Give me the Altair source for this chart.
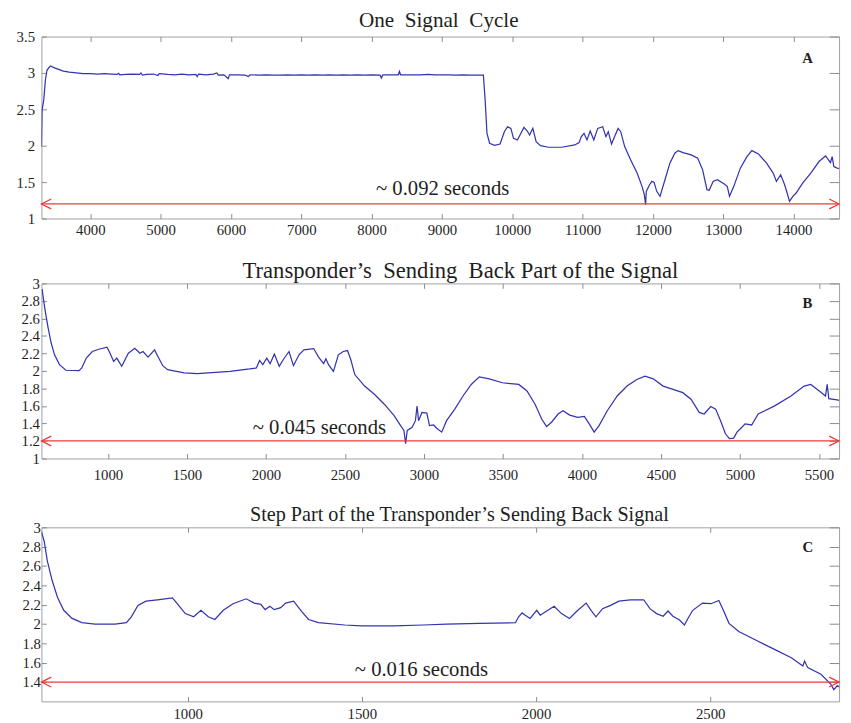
import altair as alt
import pandas as pd

FONT = "Liberation Serif"
LINE_COLOR = "#3434b0"
ARROW_COLOR = "#ee3b3b"
TEXT_COLOR = "#1e1e1e"

# ---------------- Panel A : One Signal Cycle ----------------
A_X = [3305, 3314, 3338, 3361, 3384, 3431, 3501, 3617, 3700, 3800, 3900, 4000,
       4100, 4200, 4300, 4380, 4400, 4420, 4500, 4600, 4700, 4720, 4740, 4800,
       4900, 4960, 4980, 5100, 5200, 5300, 5400, 5500, 5520, 5540, 5650, 5750,
       5800, 5820, 5900, 5960, 5980, 6100, 6200, 6250, 6270, 6400, 6500, 6600,
       6700, 6800, 6900, 7000, 7100, 7200, 7300, 7400, 7500, 7600, 7700, 7800,
       7900, 8000, 8120, 8140, 8160, 8300, 8380, 8396, 8412, 8500, 8600, 8700,
       8800, 8900, 9000, 9100, 9200, 9300, 9400, 9500, 9590, 9615, 9641, 9678,
       9748, 9827, 9888, 9934, 9981, 10018, 10074, 10167, 10214, 10247, 10293,
       10340, 10401, 10517, 10704, 10890, 10951, 10983, 11021, 11063, 11109,
       11160, 11216, 11286, 11333, 11366, 11412, 11459, 11505, 11543, 11599,
       11683, 11776, 11846, 11878, 11897, 11906, 11953, 11986, 12018, 12055,
       12102, 12172, 12242, 12312, 12359, 12429, 12545, 12638, 12708, 12769,
       12801, 12857, 12918, 13011, 13058, 13090, 13151, 13244, 13338, 13408,
       13501, 13617, 13711, 13757, 13818, 13874, 13944, 13990, 14037, 14130,
       14246, 14363, 14456, 14526, 14550, 14573, 14620, 14650]
A_Y = [1.99, 2.49, 2.63, 2.90, 3.04, 3.095, 3.067, 3.026, 3.01, 3.0, 2.99, 2.99,
       2.985, 2.99, 2.985, 2.98, 2.995, 2.975, 2.98, 2.985, 2.98, 3.0, 2.97, 2.98,
       2.985, 2.965, 2.99, 2.98, 2.975, 2.985, 2.975, 2.98, 2.95, 2.985, 2.975, 2.985,
       3.0, 2.97, 2.975, 2.92, 2.975, 2.975, 2.97, 2.95, 2.975, 2.97, 2.975, 2.97,
       2.97, 2.975, 2.97, 2.975, 2.97, 2.975, 2.97, 2.975, 2.97, 2.975, 2.97, 2.975,
       2.97, 2.975, 2.97, 2.93, 2.975, 2.975, 2.975, 3.02, 2.975, 2.975, 2.975, 2.975,
       2.98, 2.975, 2.975, 2.975, 2.97, 2.975, 2.97, 2.97, 2.97, 2.626, 2.17, 2.034,
       2.006, 2.024, 2.193, 2.261, 2.238, 2.102, 2.079, 2.252, 2.202, 2.147, 2.238,
       2.056, 2.002, 1.979, 1.979, 2.011, 2.043, 2.125, 2.170, 2.079, 2.202,
       2.079, 2.238, 2.261, 2.125, 2.193, 2.024, 2.134, 2.238, 2.193, 1.988,
       1.806, 1.624, 1.442, 1.328, 1.191, 1.373, 1.464, 1.510, 1.496, 1.373,
       1.305, 1.533, 1.760, 1.897, 1.933, 1.906, 1.874, 1.829, 1.669, 1.396,
       1.387, 1.510, 1.533, 1.478, 1.442, 1.305, 1.442, 1.692, 1.851, 1.933,
       1.888, 1.760, 1.624, 1.510, 1.601, 1.464, 1.237, 1.305, 1.350, 1.487,
       1.624, 1.783, 1.860, 1.769, 1.851, 1.715, 1.692, 1.69]

# ---------------- Panel B : Transponder's sending back part ----------------
B_X = [583, 599, 620, 641, 662, 693, 734, 817, 834, 863, 901, 942, 994, 1011,
       1036, 1056, 1087, 1129, 1170, 1202, 1222, 1254, 1295, 1316, 1347, 1378,
       1482, 1565, 1773, 1897, 1939, 1960, 1980, 2005, 2026, 2053, 2084, 2109,
       2146, 2174, 2209, 2240, 2302, 2333, 2365, 2379, 2396, 2427, 2458, 2489,
       2516, 2537, 2562, 2624, 2686, 2749, 2811, 2852, 2873, 2884, 2894, 2925,
       2946, 2956, 2966, 2987, 3018, 3035, 3060, 3081, 3112, 3143, 3195, 3247,
       3299, 3350, 3413, 3496, 3600, 3652, 3703, 3745, 3776, 3807, 3849, 3880,
       3922, 3973, 4015, 4046, 4077, 4108, 4160, 4223, 4285, 4347, 4399, 4451,
       4513, 4576, 4638, 4690, 4742, 4773, 4815, 4846, 4877, 4908, 4933, 4960,
       4981, 5012, 5032, 5074, 5115, 5219, 5323, 5406, 5448, 5510, 5541, 5552,
       5562, 5614, 5630]
B_Y = [2.936, 2.73, 2.504, 2.316, 2.184, 2.072, 2.008, 2.004, 2.034, 2.147, 2.222,
       2.248, 2.271, 2.211, 2.109, 2.147, 2.053, 2.203, 2.26, 2.203, 2.222, 2.158,
       2.241, 2.166, 2.06, 2.015, 1.978, 1.97, 1.996, 2.023, 2.034, 2.12, 2.072,
       2.147, 2.083, 2.192, 2.053, 2.128, 2.222, 2.06, 2.184, 2.241, 2.256, 2.158,
       2.083, 2.139, 2.072, 1.996, 2.184, 2.222, 2.233, 2.128, 1.959, 1.827, 1.733,
       1.620, 1.489, 1.376, 1.32, 1.17, 1.32, 1.357, 1.432, 1.60, 1.432, 1.526,
       1.519, 1.376, 1.383, 1.346, 1.301, 1.432, 1.564, 1.714, 1.846, 1.932, 1.91,
       1.865, 1.846, 1.771, 1.62, 1.451, 1.365, 1.414, 1.508, 1.545, 1.496, 1.47,
       1.481, 1.395, 1.301, 1.376, 1.545, 1.714, 1.827, 1.902, 1.94, 1.91, 1.827,
       1.79, 1.752, 1.677, 1.526, 1.508, 1.594, 1.564, 1.432, 1.282, 1.226, 1.233,
       1.301, 1.357, 1.395, 1.383, 1.508, 1.601, 1.714, 1.827, 1.846, 1.759, 1.714,
       1.846, 1.684, 1.669, 1.665]

# ---------------- Panel C : Step part ----------------
C_X = [580, 588, 597, 611, 626, 644, 668, 696, 734, 791, 824, 838, 857, 880, 913,
       956, 974, 993, 1017, 1038, 1059, 1078, 1102, 1130, 1168, 1191, 1210, 1222,
       1236, 1248, 1267, 1281, 1304, 1328, 1347, 1375, 1451, 1498, 1592, 1677,
       1743, 1837, 1941, 1950, 1960, 1969, 1983, 2002, 2012, 2026, 2052, 2073,
       2096, 2120, 2144, 2158, 2172, 2191, 2214, 2238, 2271, 2309, 2327, 2346,
       2365, 2379, 2393, 2412, 2426, 2436, 2450, 2478, 2502, 2525, 2540, 2554,
       2582, 2629, 2686, 2733, 2766, 2771, 2780, 2818, 2846, 2855, 2865, 2870]
C_Y = [2.956, 2.854, 2.651, 2.447, 2.278, 2.142, 2.058, 2.014, 2.0, 2.0, 2.014,
       2.075, 2.193, 2.237, 2.251, 2.271, 2.193, 2.108, 2.075, 2.142, 2.075, 2.047,
       2.142, 2.21, 2.261, 2.217, 2.203, 2.149, 2.183, 2.149, 2.17, 2.217, 2.237,
       2.125, 2.047, 2.014, 1.99, 1.98, 1.98, 1.99, 2.0, 2.007, 2.014, 2.075, 2.115,
       2.092, 2.058, 2.142, 2.092, 2.125, 2.183, 2.108, 2.058, 2.142, 2.217, 2.142,
       2.075, 2.159, 2.193, 2.237, 2.251, 2.251, 2.159, 2.108, 2.081, 2.135, 2.081,
       2.041, 1.99, 2.058, 2.142, 2.217, 2.21, 2.244, 2.125, 2.007, 1.922, 1.837,
       1.735, 1.651, 1.566, 1.617, 1.549, 1.481, 1.38, 1.322, 1.363, 1.35]

A_XTICKS = [4000, 5000, 6000, 7000, 8000, 9000, 10000, 11000, 12000, 13000, 14000]
A_YTICKS = [1, 1.5, 2, 2.5, 3, 3.5]
B_XTICKS = [1000, 1500, 2000, 2500, 3000, 3500, 4000, 4500, 5000, 5500]
B_YTICKS = [1, 1.2, 1.4, 1.6, 1.8, 2, 2.2, 2.4, 2.6, 2.8, 3]
C_XTICKS = [1000, 1500, 2000, 2500]
C_YTICKS = [1.4, 1.6, 1.8, 2, 2.2, 2.4, 2.6, 2.8, 3]

LEFT_HEAD = "M 1 -0.5 L 0 0 L 1 0.5"
RIGHT_HEAD = "M -1 -0.5 L 0 0 L -1 0.5"

PLOT_W = 811


def panel(xv, yv, xdom, ydom, xticks, yticks, title, tsize, tx, ty, letter, lpos,
          arrow_y, note, npos, height, ylabpad, xlabpad):
    df = pd.DataFrame({"x": xv, "y": yv})
    xs = alt.Scale(domain=xdom, nice=False, zero=False)
    ys = alt.Scale(domain=ydom, nice=False, zero=False)

    line = alt.Chart(df).mark_line(color=LINE_COLOR, strokeWidth=1.25, clip=True).encode(
        x=alt.X("x:Q", scale=xs,
                axis=alt.Axis(orient="bottom", values=xticks, offset=-5, tickSize=5,
                              domain=False, grid=False, title=None, format="d",
                              labelPadding=xlabpad, labelFlush=False)),
        y=alt.Y("y:Q", scale=ys,
                axis=alt.Axis(orient="left", values=yticks, offset=-5, tickSize=5,
                              domain=False, grid=False, title=None, format="~g",
                              labelPadding=ylabpad, labelFlush=False,
                              labelOverlap=False)),
    )

    adf = pd.DataFrame({"x": [xdom[0]], "x2": [xdom[1]], "y": [arrow_y]})
    rule = alt.Chart(adf).mark_rule(color=ARROW_COLOR, strokeWidth=1.3).encode(
        x=alt.X("x:Q", scale=xs,
                axis=alt.Axis(orient="top", values=xticks, offset=-5, tickSize=5,
                              domain=False, grid=False, title=None, labels=False)),
        x2="x2:Q",
        y=alt.Y("y:Q", scale=ys,
                axis=alt.Axis(orient="right", values=yticks, offset=-10, tickSize=10,
                              domain=False, grid=False, title=None, labels=False)),
    )

    hl = alt.Chart(pd.DataFrame({"x": [xdom[0]], "y": [arrow_y]})).mark_point(
        shape=LEFT_HEAD, size=400, filled=False, color=ARROW_COLOR,
        strokeWidth=1.3, opacity=1).encode(
        x=alt.X("x:Q", scale=xs, axis=None), y=alt.Y("y:Q", scale=ys, axis=None))
    hr = alt.Chart(pd.DataFrame({"x": [xdom[1]], "y": [arrow_y]})).mark_point(
        shape=RIGHT_HEAD, size=400, filled=False, color=ARROW_COLOR,
        strokeWidth=1.3, opacity=1).encode(
        x=alt.X("x:Q", scale=xs, axis=None), y=alt.Y("y:Q", scale=ys, axis=None))

    txt = alt.Chart(pd.DataFrame({"x": [npos[0]], "y": [npos[1]], "t": [note]})).mark_text(
        font=FONT, fontSize=21, color=TEXT_COLOR, align="center", baseline="middle").encode(
        x=alt.X("x:Q", scale=xs, axis=None), y=alt.Y("y:Q", scale=ys, axis=None),
        text="t:N")
    let = alt.Chart(pd.DataFrame({"x": [lpos[0]], "y": [lpos[1]], "t": [letter]})).mark_text(
        font=FONT, fontSize=15, fontWeight="bold", color=TEXT_COLOR,
        align="center", baseline="middle").encode(
        x=alt.X("x:Q", scale=xs, axis=None), y=alt.Y("y:Q", scale=ys, axis=None),
        text="t:N")
    ttl = alt.Chart(pd.DataFrame({"t": [title]})).mark_text(
        font=FONT, fontSize=tsize, color=TEXT_COLOR, align="center",
        baseline="middle").encode(
        x=alt.value(tx), y=alt.value(ty), text="t:N")

    return alt.layer(line, rule, hl, hr, txt, let, ttl).resolve_axis(
        x="independent", y="independent").properties(width=PLOT_W, height=height)


TX = 404
pA = panel(A_X, A_Y, [3305, 14648], [1, 3.5], A_XTICKS, A_YTICKS,
           "One\u00a0 Signal\u00a0 Cycle", 21.5, TX, -15.5, "A", [14200, 3.21],
           1.2, "~ 0.092 seconds", [9011, 1.40], 185, 7, 4)
pB = panel(B_X, B_Y, [579, 5627], [1, 3], B_XTICKS, B_YTICKS,
           "Transponder\u2019s\u00a0 Sending\u00a0 Back Part of the Signal", 23,
           TX + 22, -12.5, "B",
           [5427, 2.77], 1.2, "~ 0.045 seconds", [2338, 1.35], 178, 2, 9)
pC = panel(C_X, C_Y, [580, 2870], [1.2, 3], C_XTICKS, C_YTICKS,
           "Step Part of the Transponder\u2019s Sending Back Signal", 20.5,
           TX + 21, -12.5, "C",
           [2780, 2.80], 1.4, "~ 0.016 seconds", [1671, 1.52], 177, 1, 5)

chart = alt.vconcat(pA, pB, pC, spacing=22).properties(
    padding={"left": 7, "top": -4, "right": 0, "bottom": 0}
).configure_view(stroke="#a0a0a0", strokeWidth=1).configure_axis(
    labelFont=FONT, labelFontSize=15, labelColor=TEXT_COLOR,
    tickColor="#8a8a8a", tickWidth=1)

chart.save("out.html", embed_options={"renderer": "svg", "actions": False})
